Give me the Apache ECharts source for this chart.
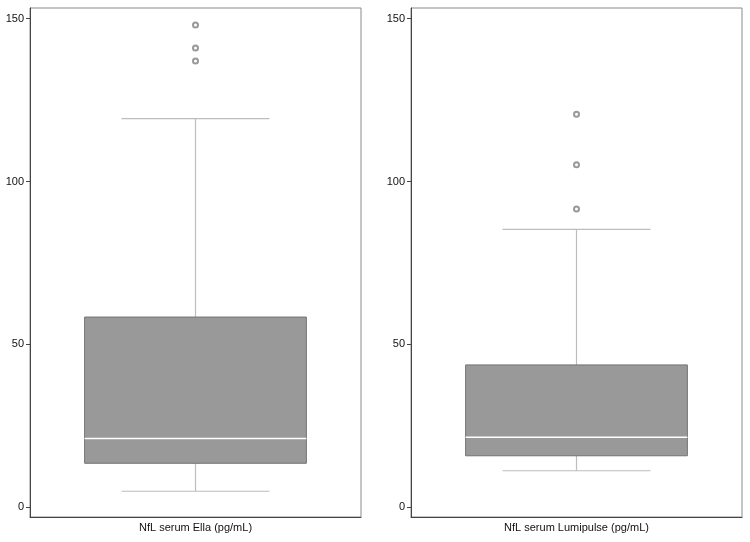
<!DOCTYPE html>
<html>
<head>
<meta charset="utf-8">
<script src="https://cdn.jsdelivr.net/npm/echarts@6/dist/echarts.min.js"></script>
<style>
  html, body { margin: 0; padding: 0; background: #fff; }
  #main { width: 750px; height: 542px; }
</style>
</head>
<body>
<div id="main"></div>
<script>
// categories (one per panel)
let ellaName = ['NfL serum Ella (pg/mL)'];
let lumiName = ['NfL serum Lumipulse (pg/mL)'];

// box values: [lower whisker, Q1, median, Q3, upper whisker]
let ellaBox = [4.9, 13.5, 21.1, 58.4, 119.3];
let lumiBox = [11.2, 15.8, 21.5, 43.7, 85.3];

// outliers
let ellaOut = [148.1, 141.0, 137.0];
let lumiOut = [120.7, 105.2, 91.6];

let yTicks = [0, 50, 100, 150];

let myChart = echarts.init(document.getElementById('main'));

// draw one box with short whisker caps
function renderBox(params, api) {
      let x = api.value(0);
      let lo = api.coord([x, api.value(1)]);
      let q1 = api.coord([x, api.value(2)]);
      let med = api.coord([x, api.value(3)]);
      let q3 = api.coord([x, api.value(4)]);
      let hi = api.coord([x, api.value(5)]);
      let band = api.size([1, 0])[0];
      let bw = band * 0.67 / 2;
      let cw = band * 0.447 / 2;
      let cx = lo[0];
      let whisk = { stroke: '#bdbdbd', lineWidth: 1.2 };
      return {
            type: 'group',
            children: [
                  { type: 'line', shape: { x1: cx, y1: hi[1], x2: cx, y2: q3[1] }, style: whisk },
                  { type: 'line', shape: { x1: cx, y1: lo[1], x2: cx, y2: q1[1] }, style: whisk },
                  { type: 'line', shape: { x1: cx - cw, y1: hi[1], x2: cx + cw, y2: hi[1] }, style: whisk },
                  { type: 'line', shape: { x1: cx - cw, y1: lo[1], x2: cx + cw, y2: lo[1] }, style: whisk },
                  {
                        type: 'rect',
                        shape: { x: cx - bw, y: q3[1], width: bw * 2, height: q1[1] - q3[1] },
                        style: { fill: '#999999', stroke: '#737373', lineWidth: 1 }
                  },
                  { type: 'line', shape: { x1: cx - bw, y1: med[1], x2: cx + bw, y2: med[1] }, style: { stroke: '#ffffff', lineWidth: 1.6 } }
            ]
      };
}

function xAxisFor(idx, names) {
      return {
            type: 'category',
            gridIndex: idx,
            data: names,
            axisLine: { show: true, onZero: false, lineStyle: { color: '#444', width: 1 } },
            axisTick: { show: false },
            axisLabel: { color: '#111', fontSize: 11, margin: 5, fontFamily: 'Liberation Sans' },
            splitLine: { show: false }
      };
}

function yAxisFor(idx) {
      return {
            type: 'value',
            gridIndex: idx,
            min: -3,
            max: 153.3,
            axisLine: { show: true, onZero: false, lineStyle: { color: '#444', width: 1 } },
            axisTick: { show: true, length: 4, customValues: yTicks, lineStyle: { color: '#444' } },
            axisLabel: { color: '#111', fontSize: 11, margin: 6, customValues: yTicks, fontFamily: 'Liberation Sans' },
            splitLine: { show: false }
      };
}

let option = {
      backgroundColor: '#fff',
      animation: false,
      grid: [
            { left: 30, top: 8, width: 331, bottom: 25, show: true, borderColor: '#8a8a8a', borderWidth: 1 },
            { left: 411, top: 8, width: 331, bottom: 25, show: true, borderColor: '#8a8a8a', borderWidth: 1 }
      ],
      xAxis: [xAxisFor(0, ellaName), xAxisFor(1, lumiName)],
      yAxis: [yAxisFor(0), yAxisFor(1)],
      series: [
            {
                  type: 'custom',
                  xAxisIndex: 0,
                  yAxisIndex: 0,
                  renderItem: renderBox,
                  data: [[0].concat(ellaBox)]
            },
            {
                  type: 'custom',
                  xAxisIndex: 1,
                  yAxisIndex: 1,
                  renderItem: renderBox,
                  data: [[0].concat(lumiBox)]
            },
            {
                  type: 'scatter',
                  xAxisIndex: 0,
                  yAxisIndex: 0,
                  symbol: 'emptyCircle',
                  symbolSize: 5,
                  itemStyle: { color: '#808080', borderColor: '#808080', borderWidth: 0.8 },
                  data: ellaOut.map(function (v) { return [0, v]; })
            },
            {
                  type: 'scatter',
                  xAxisIndex: 1,
                  yAxisIndex: 1,
                  symbol: 'emptyCircle',
                  symbolSize: 5,
                  itemStyle: { color: '#808080', borderColor: '#808080', borderWidth: 0.8 },
                  data: lumiOut.map(function (v) { return [0, v]; })
            }
      ]
};

myChart.setOption(option);
</script>
</body>
</html>
